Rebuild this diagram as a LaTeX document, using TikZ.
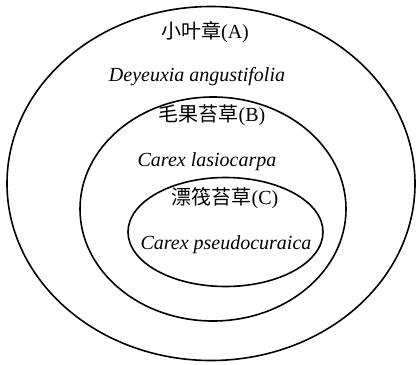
\documentclass[tikz,border=0pt]{standalone}
\usepackage{fontspec}
\setmainfont{Liberation Serif}
\newfontfamily\cjk{Noto Sans CJK SC}
\begin{document}
\begin{tikzpicture}[x=1pt,y=-1pt,
  ring/.style={line width=1.6pt},
  zh/.style={font=\fontsize{20}{24}\selectfont\cjk, inner sep=0pt},
  latin/.style={font=\fontsize{20}{24}\selectfont\itshape, inner sep=0pt}]
\useasboundingbox (0,0) rectangle (417,364);
% nested community ellipses
\coordinate (cA) at (211,183.5);
\coordinate (cB) at (213,209);
\coordinate (cC) at (225.5,232);
\draw[ring] (cA) ellipse [x radius=204, y radius=177];
\draw[ring] (cB) ellipse [x radius=133, y radius=112];
\draw[ring] (cC) ellipse [x radius=97.5, y radius=54.5];
% labels
\node[zh] (zA) at (205,32) {小叶章{\rmfamily(A)}};
\node[latin] (lA) at (197,77) {Deyeuxia angustifolia};
\node[zh] (zB) at (212,115) {毛果苔草{\rmfamily(B)}};
\node[latin] (lB) at (207,162) {Carex lasiocarpa};
\node[zh] (zC) at (225,198) {漂筏苔草{\rmfamily(C)}};
\node[latin] (lC) at (226,245) {Carex pseudocuraica};
\end{tikzpicture}
\end{document}
